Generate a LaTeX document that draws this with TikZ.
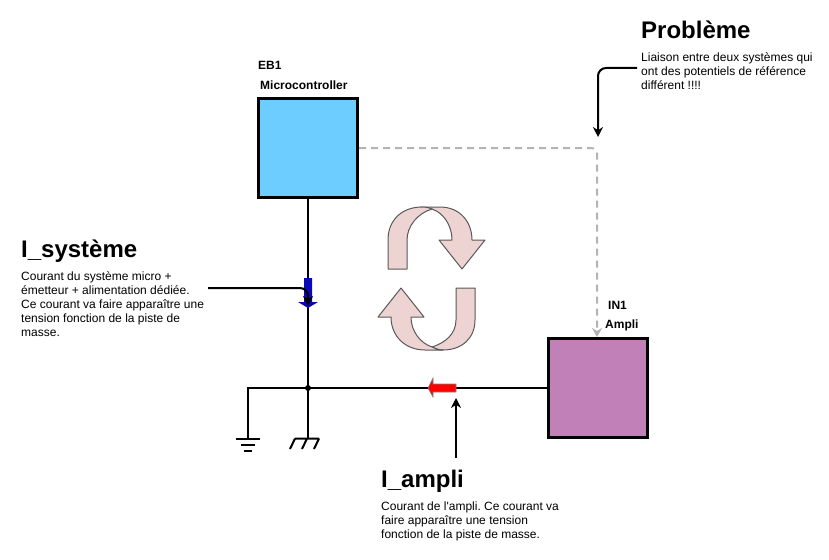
\documentclass[tikz,border=0pt]{standalone}
\usepackage{fontspec}
\setmainfont{Liberation Sans}
\newfontfamily\plainquote{Liberation Sans}
\usepackage{xcolor}
\usetikzlibrary{arrows.meta}
\definecolor{boxblue}{HTML}{6DCDFF}
\definecolor{boxpurple}{HTML}{C280B8}
\definecolor{looppink}{HTML}{EED3D3}
\definecolor{dashgray}{HTML}{B3B3B3}
\definecolor{curblue}{HTML}{0A0AB4}
\frenchspacing

\begin{document}
\begin{tikzpicture}[x=1pt,y=-1pt,
  every node/.style={font=\fontsize{12}{14}\selectfont, inner sep=0pt},
  block/.style={draw, line width=3pt, minimum width=99pt, minimum height=99pt},
  title/.style={anchor=west, font=\fontsize{24}{28}\selectfont\bfseries},
  note/.style={anchor=north west, align=left},
  tag/.style={anchor=west, font=\fontsize{12}{14}\selectfont\bfseries},
  wire/.style={line width=2pt},
  arr/.style={-{Stealth[length=10pt,width=10pt]}, line width=2pt, rounded corners=8pt},
  loop/.style={draw=black!65, fill=looppink, line width=1pt, line join=round},
  gnd/.style={line width=2pt}]
\useasboundingbox (0,0) rectangle (829,559);
% blocks
\node[block, fill=boxblue] (eb1) at (308,148) {};
\node[block, fill=boxpurple] (ampli) at (598,388) {};
\coordinate (jn) at (308,388);
\coordinate (gndl) at (248,438);
\coordinate (gndc) at (308,438);
% texts
\node[tag] (eb1name) at (258,65) {EB1};
\node[tag] (eb1type) at (260,85) {Microcontroller};
\node[tag] (in1name) at (608,305) {IN1};
\node[tag] (in1type) at (605,325) {Ampli};
\node[title] (probt) at (641,30) {Problème};
\node[note] (probn) at (641,52) {Liaison entre deux systèmes qui\\ont des potentiels de référence\\différent !!!!};
\node[title] (syst) at (21,251) {I\_système};
\node[note] (sysn) at (21,271) {Courant du système micro +\\émetteur + alimentation dédiée.\\Ce courant va faire apparaître une\\tension fonction de la piste de\\masse.};
\node[title] (ampt) at (381,481) {I\_ampli};
\node[note] (ampn) at (381,502) {Courant de l{\plainquote '}ampli. Ce courant va\\faire apparaître une tension\\fonction de la piste de masse.};
% wires
\draw[wire] (eb1) -- (jn);
\draw[wire] (jn) -- (gndc);
\draw[wire] (ampli) -- (jn);
\draw[wire] (jn) -| (gndl);
\fill (jn) circle (3pt);
\draw[gnd] (236,438.5) -- (260,438.5) (241,444.5) -- (255,444.5) (244,451) -- (252,451);
\draw[gnd] (295,438.5) -- (319,438.5) (295,438.5) -- (290,449) (307,438.5) -- (302,449) (319,438.5) -- (314,449);
% dashed link
\coordinate (dcorner) at (597,148);
\draw[dashgray, line width=2pt, dash pattern=on 7pt off 5pt, -{Stealth[length=9pt,width=10pt]}, rounded corners=6pt] (eb1.east) -- (dcorner) -- (ampli.north -| dcorner);
% current arrows
\fill[curblue] (304,278) -- (312,278) -- (312,302) -- (318,302) -- (308,308) -- (298,302) -- (304,302) -- cycle;
\draw[draw=black!50, fill=red, line width=0.6pt] (456,384) -- (433,384) -- (433,378) -- (428,388) -- (433,397) -- (433,392) -- (456,392) -- cycle;
\coordinate (sysfrom) at (208,288);
\coordinate (sysbend) at (308,288);
\coordinate (systo) at (308,306);
\draw[arr] (sysfrom) -- (sysbend) -- (systo);
\coordinate (ampfrom) at (456,458);
\coordinate (ampto) at (456,398);
\draw[arr] (ampfrom) -- (ampto);
\coordinate (probfrom) at (637,68);
\coordinate (probbend) at (598,68);
\coordinate (probto) at (598,137);
\draw[arr] (probfrom) -- (probbend) -- (probto);
% loop arrows
\draw[loop] (420,207) -- (440,207) .. controls (460,207) and (472,222) .. (472,240) -- (485,240) -- (462,269) -- (439,240) -- (452,240) .. controls (452,226) and (444,213) .. (432,209) -- cycle;
\draw[loop] (388,269) -- (388,240) .. controls (388,220) and (402,207) .. (422,207) .. controls (426,207) and (430,208) .. (432,209) .. controls (418,213) and (407,226) .. (407,240) -- (407,269) -- cycle;
\draw[loop] (456,288) -- (475,288) -- (475,320) .. controls (475,338) and (462,350) .. (443,350) .. controls (438,350) and (435,349) .. (432,347) .. controls (445,343) and (456,334) .. (456,320) -- cycle;
\draw[loop] (401,288) -- (424,317) -- (411,317) .. controls (411,331) and (420,343) .. (432,347) .. controls (436,349) and (440,350) .. (443,350) -- (425,350) .. controls (405,350) and (391,336) .. (391,317) -- (378,317) -- cycle;
\end{tikzpicture}
\end{document}
